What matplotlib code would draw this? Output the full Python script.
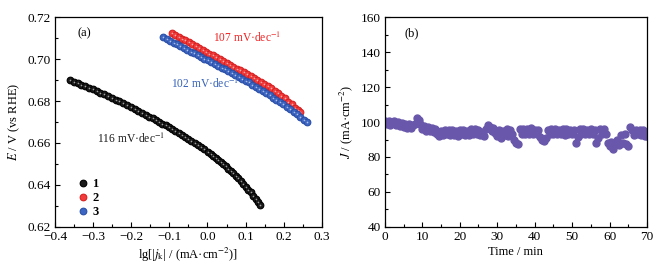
import numpy as np
import matplotlib
matplotlib.use("Agg")
import matplotlib.pyplot as plt
from matplotlib.ticker import MultipleLocator

plt.rcParams['font.family'] = ['Liberation Serif', 'DejaVu Serif']
plt.rcParams['mathtext.fontset'] = 'stix'

# ---- panel (a): Tafel plots ----
lg_j_1 = [-0.361, -0.351, -0.341, -0.331, -0.321, -0.311, -0.301, -0.291, -0.281, -0.271,
          -0.261, -0.251, -0.241, -0.231, -0.221, -0.211, -0.201, -0.191, -0.181, -0.171,
          -0.161, -0.1525, -0.144, -0.1355, -0.127, -0.1185, -0.110, -0.1015, -0.093, -0.0845,
          -0.076, -0.0675, -0.059, -0.0505, -0.042, -0.0335, -0.025, -0.0165, -0.008, 0.0005,
          0.009, 0.0155, 0.022, 0.0285, 0.035, 0.0415, 0.048, 0.0545, 0.061, 0.0675,
          0.074, 0.0805, 0.087, 0.0935, 0.100, 0.1065, 0.113, 0.1195, 0.126, 0.1325, 0.139]
E_1 = [0.6900, 0.6893, 0.6886, 0.6879, 0.6871, 0.6864, 0.6856, 0.6848, 0.6840, 0.6832,
       0.6824, 0.6816, 0.6807, 0.6798, 0.6789, 0.6780, 0.6771, 0.6762, 0.6753, 0.6744,
       0.6734, 0.6726, 0.6718, 0.6710, 0.6701, 0.6692, 0.6684, 0.6675, 0.6666, 0.6657,
       0.6648, 0.6639, 0.6629, 0.6620, 0.6610, 0.6600, 0.6590, 0.6580, 0.6569, 0.6559,
       0.6548, 0.6539, 0.6530, 0.6520, 0.6510, 0.6500, 0.6489, 0.6478, 0.6467, 0.6455,
       0.6443, 0.6431, 0.6418, 0.6405, 0.6392, 0.6378, 0.6364, 0.6349, 0.6334, 0.6318, 0.6302]

lg_j_2 = [-0.094, -0.085, -0.076, -0.067, -0.058, -0.049, -0.040, -0.031, -0.022, -0.013,
          -0.004, 0.005, 0.014, 0.023, 0.032, 0.041, 0.050, 0.059, 0.068, 0.077,
          0.086, 0.095, 0.104, 0.113, 0.122, 0.131, 0.140, 0.149, 0.158, 0.167,
          0.176, 0.185, 0.194, 0.203, 0.212, 0.221, 0.230, 0.237, 0.243]
E_2 = [0.7124, 0.7115, 0.7107, 0.7098, 0.7089, 0.7080, 0.7071, 0.7062, 0.7053, 0.7044,
       0.7035, 0.7026, 0.7018, 0.7009, 0.7000, 0.6991, 0.6982, 0.6973, 0.6964, 0.6955,
       0.6946, 0.6938, 0.6929, 0.6920, 0.6911, 0.6902, 0.6893, 0.6883, 0.6872, 0.6861,
       0.6849, 0.6837, 0.6826, 0.6813, 0.6797, 0.6785, 0.6768, 0.6758, 0.6750]

lg_j_3 = [-0.116, -0.107, -0.098, -0.089, -0.080, -0.071, -0.062, -0.053, -0.044, -0.035,
          -0.026, -0.017, -0.008, 0.001, 0.010, 0.019, 0.028, 0.037, 0.046, 0.055,
          0.064, 0.073, 0.082, 0.091, 0.100, 0.109, 0.118, 0.127, 0.136, 0.145,
          0.154, 0.163, 0.172, 0.181, 0.190, 0.199, 0.208, 0.217, 0.226, 0.235,
          0.244, 0.253, 0.262]
E_3 = [0.7104, 0.7096, 0.7087, 0.7079, 0.7070, 0.7062, 0.7053, 0.7045, 0.7036, 0.7028,
       0.7019, 0.7011, 0.7002, 0.6994, 0.6985, 0.6977, 0.6968, 0.6960, 0.6951, 0.6943,
       0.6934, 0.6925, 0.6916, 0.6907, 0.6898, 0.6889, 0.6879, 0.6869, 0.6859, 0.6849,
       0.6839, 0.6828, 0.6817, 0.6806, 0.6795, 0.6784, 0.6772, 0.6760, 0.6748, 0.6736,
       0.6724, 0.6712, 0.6700]

sample_labels = ['1', '2', '3']
slope_labels = ['116 mV\u00b7dec$^{-1}$', '107 mV\u00b7dec$^{-1}$', '102 mV\u00b7dec$^{-1}$']

# ---- panel (b): chronoamperometry, one value every 0.5 min ----
t_step = 0.5
J_b = [100.5, 98.6, 100.6, 98.4, 100.0, 100.8, 98.2, 99.8, 97.8, 99.6,
       97.2, 99.0, 96.8, 98.6, 96.4, 98.2, 99.0, 102.4, 101.0, 98.6,
       95.8, 97.6, 95.0, 97.0, 94.6, 96.6, 94.4, 95.8, 93.0, 92.2,
       95.0, 92.6, 95.4, 93.0, 95.2, 92.4, 95.6, 92.8, 95.0, 92.2,
       95.2, 93.0, 95.4, 92.6, 94.8, 92.4, 95.8, 93.2, 96.0, 93.4,
       95.6, 92.8, 94.4, 92.2, 96.0, 98.4, 97.0, 95.0, 96.4, 93.8,
       92.2, 95.6, 91.0, 95.0, 92.6, 96.2, 92.0, 95.2, 93.2, 90.0,
       88.2, 87.4, 96.0, 93.2, 96.2, 93.4, 95.8, 93.0, 96.4, 93.4,
       95.6, 93.0, 95.2, 91.6, 89.6, 89.2, 91.0, 95.4, 93.0, 96.0,
       93.0, 96.2, 93.2, 95.6, 93.0, 96.0, 92.8, 95.8, 93.2, 95.4,
       93.0, 95.6, 88.2, 91.6, 95.8, 93.0, 96.0, 93.2, 95.6, 93.0,
       96.0, 93.0, 95.4, 88.2, 90.6, 95.8, 93.2, 96.2, 93.0, 87.8,
       86.2, 88.6, 84.4, 87.8, 89.6, 86.6, 92.8, 88.0, 93.2, 87.2,
       86.2, 97.4, 95.4, 92.6, 95.6, 93.0, 95.2, 92.8, 95.4, 92.2,
       92.2]
time_b = np.arange(len(J_b)) * t_step

fig = plt.figure(figsize=(6.67, 2.73), dpi=100)
ax1 = fig.add_axes([0.0825, 0.169, 0.400, 0.768])
ax2 = fig.add_axes([0.577, 0.169, 0.393, 0.768])

face = ['#1a1a1a', '#f23b3b', '#3d66c2']
edge = ['#000000', '#d92020', '#2a4fa8']
series = [(lg_j_1, E_1), (lg_j_2, E_2), (lg_j_3, E_3)]
handles = []
for (x, y), fc, ec, lab in zip(series, face, edge, sample_labels):
    h, = ax1.plot(x, y, 'o', ms=4.8, mfc=fc, mec=ec, mew=0.8, ls='none', label=lab)
    ax1.plot(x, y, 'o', ms=1.2, mfc='white', mec='none', alpha=0.6, ls='none')
    handles.append(h)

ax1.text(-0.290, 0.6622, slope_labels[0], color='#1a1a1a', fontsize=8.3, va='center')
ax1.text(0.015, 0.7101, slope_labels[1], color='#ee2222', fontsize=8.3, va='center')
ax1.text(-0.097, 0.6880, slope_labels[2], color='#3560b8', fontsize=8.3, va='center')
ax1.text(0.083, 0.925, '(a)', transform=ax1.transAxes, fontsize=9, va='center')

leg = ax1.legend(handles=handles, loc='lower left', bbox_to_anchor=(0.055, 0.0),
                 frameon=False, handlelength=0.7, handletextpad=0.4, labelspacing=0.15,
                 borderpad=0.2, prop={'weight': 'bold', 'size': 9})

ax1.set_xlim(-0.4, 0.3)
ax1.set_ylim(0.62, 0.72)
ax1.set_xticks([-0.4, -0.3, -0.2, -0.1, 0.0, 0.1, 0.2, 0.3])
ax1.set_xticklabels(['\u22120.4', '\u22120.3', '\u22120.2', '\u22120.1', '0.0', '0.1', '0.2', '0.3'])
ax1.xaxis.set_minor_locator(MultipleLocator(0.05))
ax1.set_yticks([0.62, 0.64, 0.66, 0.68, 0.70, 0.72])
ax1.set_yticklabels(['0.62', '0.64', '0.66', '0.68', '0.70', '0.72'])
ax1.yaxis.set_minor_locator(MultipleLocator(0.01))
ax1.set_xlabel('lg[|$\\mathit{j}_\\mathrm{k}$| / (mA\u00b7cm$^{-2}$)]', fontsize=9, labelpad=2)
ax1.set_ylabel('$\\mathit{E}$ / V (vs RHE)', fontsize=9, labelpad=4)

ax2.plot(time_b, J_b, 'o', ms=5.0, color='#6957ab', mec='#6957ab', ls='none')
ax2.text(0.076, 0.925, '(b)', transform=ax2.transAxes, fontsize=9, va='center')
ax2.set_xlim(0, 70)
ax2.set_ylim(40, 160)
ax2.xaxis.set_major_locator(MultipleLocator(10))
ax2.xaxis.set_minor_locator(MultipleLocator(5))
ax2.yaxis.set_major_locator(MultipleLocator(20))
ax2.yaxis.set_minor_locator(MultipleLocator(10))
ax2.set_xlabel('Time / min', fontsize=9, labelpad=2)
ax2.set_ylabel('$\\mathit{J}$ / (mA\u00b7cm$^{-2}$)', fontsize=9, labelpad=4)

for ax in (ax1, ax2):
    for s in ax.spines.values():
        s.set_linewidth(0.9)
    ax.tick_params(which='both', direction='in', top=False, right=False,
                   labelsize=9.5, width=0.8, pad=3)
    ax.tick_params(which='major', length=3.5)
    ax.tick_params(which='minor', length=2)

fig.savefig('out.png', dpi=100)
